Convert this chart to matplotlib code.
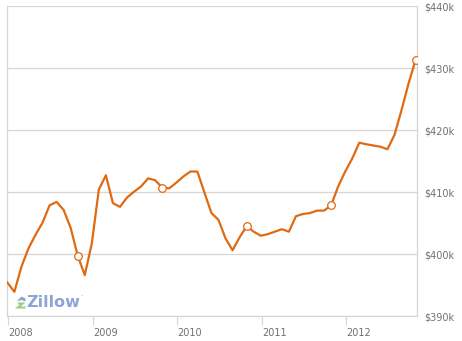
import numpy as np
import matplotlib
matplotlib.use("Agg")
import matplotlib.pyplot as plt
from matplotlib.patches import Polygon

# valores mensais (jan/2008 - nov/2012), em milhares de dólares
values = [395.4, 393.9, 397.95, 400.9, 403.1, 405.05, 407.85, 408.4, 407.1, 404.2,
          399.7, 396.6, 401.7, 410.4, 412.7, 408.2, 407.6, 409.1, 410.05, 410.9,
          412.2, 411.9, 410.7, 410.6, 411.5, 412.5, 413.3, 413.3, 409.9, 406.6,
          405.5, 402.5, 400.6, 402.7, 404.5, 403.6, 402.95, 403.2, 403.6, 404.0,
          403.6, 406.1, 406.45, 406.6, 407.0, 407.0, 407.85, 410.9, 413.3, 415.4,
          417.95, 417.7, 417.5, 417.3, 416.9, 419.2, 423.2, 427.5, 431.3]
marker_months = [10, 22, 34, 46, 58]
year_labels = ["2008", "2009", "2010", "2011", "2012"]
year_months = [0, 12, 24, 36, 48]
y_ticks = [390, 400, 410, 420, 430, 440]

orange = "#e06a12"
grid_c = "#d6d6d6"
text_c = "#707070"
logo_blue = "#8ea3d8"
logo_green = "#9bcf7a"

fig = plt.figure(figsize=(4.62, 3.41), dpi=100)
W, H = 462, 341
ax = fig.add_axes([7 / W, 1 - 316 / H, 410 / W, 310 / H])

months = np.arange(len(values))
ax.plot(months, values, color=orange, lw=1.6, zorder=3)
ax.plot(marker_months, [values[m] for m in marker_months], "o", ms=5.5,
        mfc="white", mec=orange, mew=0.9, zorder=4)

ax.set_xlim(-0.05, 58.2)
ax.set_ylim(390, 440)

ax.set_yticks(y_ticks)
ax.yaxis.tick_right()
ax.set_yticklabels([f"${v}k" for v in y_ticks])
ax.tick_params(axis="y", length=0, pad=5, labelsize=7, labelcolor=text_c)
ax.grid(axis="y", color=grid_c, lw=0.9)

ax.set_xticks([m + 0.15 for m in year_months])
ax.set_xticklabels(year_labels)
ax.tick_params(axis="x", length=6.5, width=0.8, color=grid_c, labelsize=7,
               labelcolor=text_c, pad=2.5)
for lab in ax.get_xticklabels():
    lab.set_horizontalalignment("left")

for s in ["left", "right", "bottom"]:
    ax.spines[s].set_color(grid_c)
    ax.spines[s].set_linewidth(0.9)
ax.spines["top"].set_visible(False)

# logo Zillow
fig.text(26 / W, 1 - 302.5 / H, "Zillow", fontsize=11.5, fontweight="bold",
         color=logo_blue, va="center", ha="left")
fig.text(80.5 / W, 1 - 297 / H, "\u00b7", fontsize=6, color=logo_blue, va="center")

def px(pts):
    return [(x / W, 1 - y / H) for x, y in pts]

roof = px([(16.5, 301.5), (21.5, 296.5), (25.5, 298.5), (25.5, 301.5), (21.5, 300)])
zig = px([(18, 302.5), (25.5, 302.5), (20.5, 306.5), (25.5, 306.5), (25.5, 308.5),
          (15, 308.5), (20, 304.5), (18, 304.5)])
fig.patches.append(Polygon(roof, closed=True, transform=fig.transFigure,
                           fc=logo_blue, ec="none"))
fig.patches.append(Polygon(zig, closed=True, transform=fig.transFigure,
                           fc=logo_green, ec="none"))

fig.savefig("out.png", dpi=100)
